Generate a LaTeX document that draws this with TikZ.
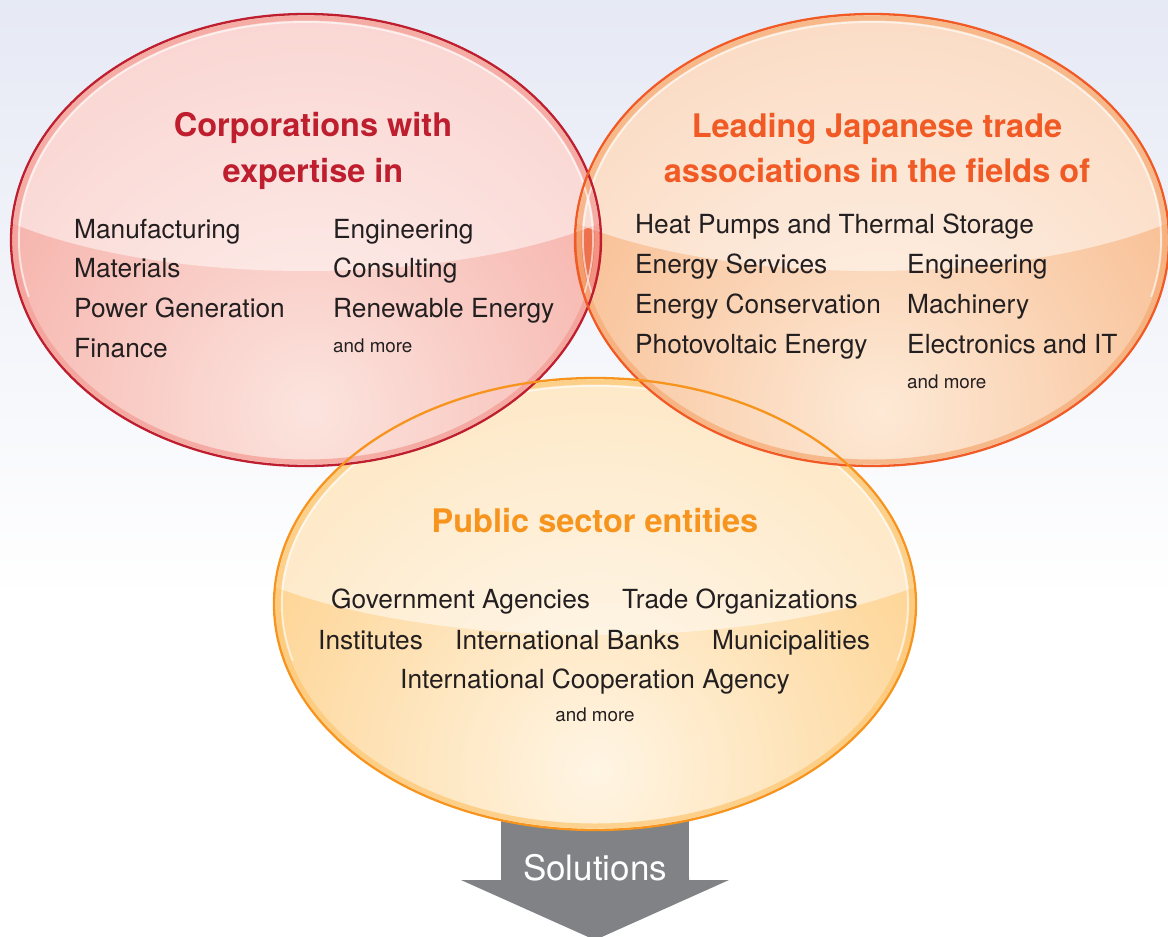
\documentclass[tikz,border=0pt]{standalone}
\usepackage{fontspec}
\setmainfont{TeX Gyre Heros}
\usetikzlibrary{positioning}
\definecolor{bgtop}{RGB}{226,230,243}
\definecolor{corpline}{RGB}{190,30,45}
\definecolor{corpbase}{RGB}{243,158,150}
\definecolor{corpglow}{RGB}{252,228,222}
\definecolor{tradeline}{RGB}{241,90,36}
\definecolor{tradebase}{RGB}{246,172,118}
\definecolor{tradeglow}{RGB}{253,233,214}
\definecolor{publine}{RGB}{247,148,29}
\definecolor{pubbase}{RGB}{253,200,118}
\definecolor{pubglow}{RGB}{255,245,228}
\definecolor{lens}{RGB}{238,113,78}
\definecolor{arrowgrey}{RGB}{128,130,134}
\definecolor{itemtext}{RGB}{35,31,32}

\begin{document}
\begin{tikzpicture}[x=1pt, y=1pt,
  item/.style={anchor=base west, inner sep=0pt, text=itemtext, font=\fontsize{26.3}{30}\selectfont},
  more/.style={anchor=base west, inner sep=0pt, text=itemtext, font=\fontsize{18.8}{22}\selectfont},
  heading/.style={anchor=base, inner sep=0pt, font=\fontsize{32.5}{38}\selectfont\bfseries},
  corpfill/.style={inner color=corpglow, outer color=corpbase},
  tradefill/.style={inner color=tradeglow, outer color=tradebase},
  pubfill/.style={inner color=pubglow, outer color=pubbase},
  gloss/.style={white, opacity=0.5},
  band/.style={line width=5pt, opacity=0.75},
  rim/.style={white, opacity=0.6, line width=1.8pt, line cap=round},
  border/.style={line width=2.3pt}
]
\useasboundingbox (0,0) rectangle (1168,-937);
\fill[white] (0,0) rectangle (1168,-937);
\shade[top color=bgtop, bottom color=white] (0,100) rectangle (1168,-600);

\coordinate (corp) at (306,-240);
\coordinate (trade) at (872,-240);
\coordinate (pub) at (595,-604);

% public sector bubble
\begin{scope}
  \clip (pub) ellipse [x radius=321, y radius=226];
  \shade[pubfill] (595,-770) circle (520);
  \fill[gloss] (595,-501) ellipse [x radius=417, y radius=134];
\end{scope}
\draw[band, pubbase] (pub) ellipse [x radius=317, y radius=222];
\draw[rim] ([shift={(195:313 and 218)}]pub) arc[start angle=195, end angle=-15, x radius=313, y radius=218];

% corporations and trade bubbles
\begin{scope}
  \clip (corp) ellipse [x radius=295, y radius=226];
  \shade[corpfill] (310,-410) circle (520);
\end{scope}
\begin{scope}
  \clip (trade) ellipse [x radius=297, y radius=226];
  \shade[tradefill] (880,-410) circle (520);
\end{scope}
\begin{scope}
  \clip (trade) ellipse [x radius=297, y radius=226];
  \clip (corp) ellipse [x radius=295, y radius=226];
  \fill[lens] (560,-100) rectangle (620,-400);
\end{scope}
\begin{scope}
  \clip (corp) ellipse [x radius=295, y radius=226];
  \fill[gloss] (306,-137) ellipse [x radius=384, y radius=134];
\end{scope}
\begin{scope}
  \clip (trade) ellipse [x radius=297, y radius=226];
  \fill[gloss] (872,-137) ellipse [x radius=386, y radius=134];
\end{scope}
\draw[band, corpbase] (corp) ellipse [x radius=291, y radius=222];
\draw[band, tradebase] (trade) ellipse [x radius=293, y radius=222];
\draw[rim] ([shift={(195:287 and 218)}]corp) arc[start angle=195, end angle=-15, x radius=287, y radius=218];
\draw[rim] ([shift={(195:289 and 218)}]trade) arc[start angle=195, end angle=-15, x radius=289, y radius=218];

% arrow
\fill[arrowgrey] ([shift={(253:321 and 226)}]pub) arc[start angle=253, end angle=287, x radius=321, y radius=226]
  -- (689,-880) -- (729,-880) -- (595,-940) -- (461,-880) -- (501,-880) -- cycle;

\draw[border, corpline] (corp) ellipse [x radius=295, y radius=226];
\draw[border, tradeline] (trade) ellipse [x radius=297, y radius=226];
\draw[border, publine] (pub) ellipse [x radius=321, y radius=226];

\node[heading, text=corpline] (corptitle) at (313,-136) {Corporations with};
\node[heading, text=corpline] (corpexp) at (313,-182) {expertise in};
\node[item] (man) at (74,-238) {Manufacturing};
\node[item] (mat) at (74,-277) {Materials};
\node[item] (power) at (74,-317) {Power Generation};
\node[item] (fin) at (74,-357) {Finance};
\node[item] (corpeng) at (333,-238) {Engineering};
\node[item] (cons) at (333,-277) {Consulting};
\node[item] (renew) at (333,-317) {Renewable Energy};
\node[more] (corpmore) at (333,-352) {and more};

\node[heading, text=tradeline] (tradetitle) at (877,-137) {Leading Japanese trade};
\node[heading, text=tradeline] (tradefields) at (877,-182) {associations in the fields of};
\node[item] (heat) at (635,-233) {Heat Pumps and Thermal Storage};
\node[item] (enserv) at (635,-273) {Energy Services};
\node[item] (encons) at (635,-313) {Energy Conservation};
\node[item] (pv) at (635,-353) {Photovoltaic Energy};
\node[item] (tradeeng) at (907,-273) {Engineering};
\node[item] (mach) at (907,-313) {Machinery};
\node[item] (elec) at (907,-353) {Electronics and IT};
\node[more] (trademore) at (907,-388) {and more};

\node[heading, text=publine] (pubtitle) at (595,-532) {Public sector entities};
\node[item] (gov) at (331,-608) {Government Agencies};
\node[item] (tradeorg) at (622,-608) {Trade Organizations};
\node[item] (inst) at (318,-649) {Institutes};
\node[item] (banks) at (455,-649) {International Banks};
\node[item] (muni) at (712,-649) {Municipalities};
\node[item, anchor=base] (jica) at (595,-688) {International Cooperation Agency};
\node[more, anchor=base] (pubmore) at (595,-721) {and more};

\node[anchor=base, inner sep=0pt, text=white, font=\fontsize{35}{40}\selectfont] (sol) at (595,-880) {Solutions};
\end{tikzpicture}
\end{document}
